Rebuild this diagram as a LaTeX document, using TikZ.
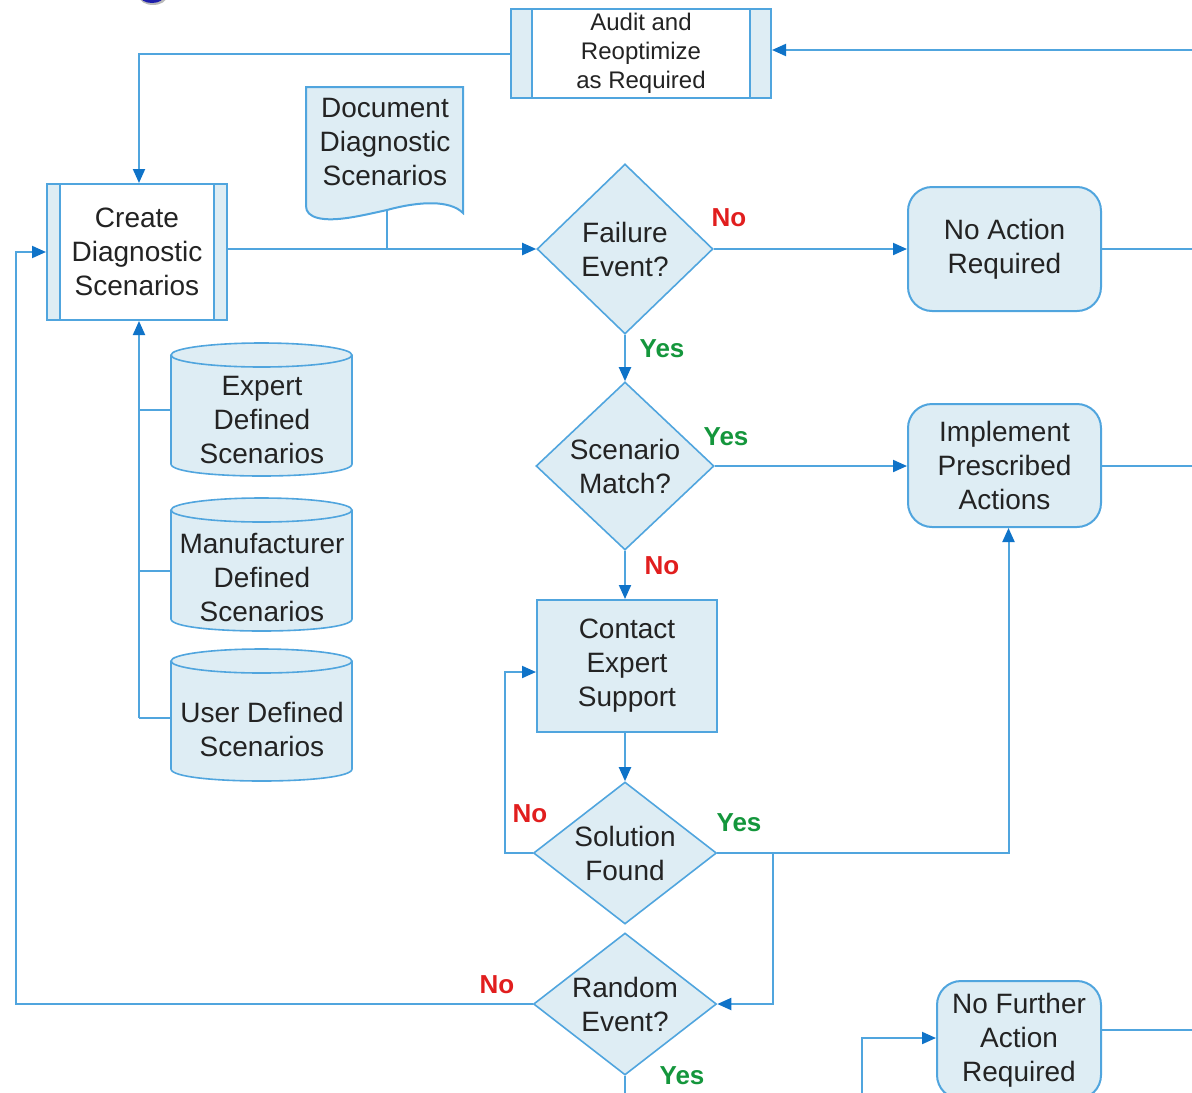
\documentclass[tikz,border=0pt]{standalone}
\usepackage{fontspec}
\setmainfont{Liberation Sans}
\usetikzlibrary{arrows.meta,shapes.geometric}

\definecolor{boxfill}{RGB}{222,237,244}
\definecolor{edge}{RGB}{80,165,222}
\definecolor{tipblue}{RGB}{15,115,200}
\definecolor{ink}{RGB}{35,35,35}
\definecolor{nored}{RGB}{225,30,30}
\definecolor{yesgreen}{RGB}{20,150,60}
\definecolor{logoblue}{RGB}{30,30,170}

\tikzset{
  base/.style={font=\fontsize{14}{17}\selectfont, text=ink, align=center, inner sep=0pt},
  subproc/.style={base, rectangle, draw=edge, line width=1pt, fill=boxfill,
    path picture={
      \fill[white] ([xshift=#1]path picture bounding box.north west)
        rectangle ([xshift=-#1]path picture bounding box.south east);
      \draw[edge, line width=1pt]
        ([xshift=#1]path picture bounding box.north west) -- ([xshift=#1]path picture bounding box.south west)
        ([xshift=-#1]path picture bounding box.north east) -- ([xshift=-#1]path picture bounding box.south east);
    }},
  decision/.style={base, diamond, draw=edge, line width=0.8pt, fill=boxfill},
  terminal/.style={base, rectangle, rounded corners=12pt, draw=edge, line width=1pt, fill=boxfill},
  process/.style={base, rectangle, draw=edge, line width=1pt, fill=boxfill},
  flow/.style={draw=edge, line width=1pt},
  arr/.style={flow, -{Triangle[length=7pt,width=6pt,color=tipblue]}},
  nolab/.style={font=\bfseries\fontsize{13}{15}\selectfont, text=nored, inner sep=0pt},
  yeslab/.style={font=\bfseries\fontsize{13}{15}\selectfont, text=yesgreen, inner sep=0pt},
  store/.style={fill=boxfill, draw=edge, line width=0.8pt}
}

% database drum: left x, right x, top rim centre y, bottom rim y
\newcommand\drum[4]{%
  \path[store, draw=none] (#1,#3) -- (#1,#4) .. controls (#1,#4+16) and (#2,#4+16) .. (#2,#4) -- (#2,#3) -- cycle;
  \draw[store] (#1,#3) -- (#1,#4) .. controls (#1,#4+16) and (#2,#4+16) .. (#2,#4) -- (#2,#3);
  \draw[store] ({(#1+#2)/2},#3) ellipse [x radius={(#2-#1)/2}, y radius=12];
}

\begin{document}
\begin{tikzpicture}[x=0.5pt, y=-0.5pt]
\useasboundingbox (0,0) rectangle (1192,1092);
\clip (0,0) rectangle (1192,1092);

% logo fragment at the top edge
\fill[gray!55] (153,-3) ellipse [x radius=13.5, y radius=8];
\fill[logoblue] (152,-4.5) ellipse [x radius=12.5, y radius=7.5];

% sub-processes
\node[subproc=10.5pt, minimum width=130pt, minimum height=44.5pt,
      font=\fontsize{12}{14.5}\selectfont] (audit) at (641,53.5) {Audit and\\Reoptimize\\as Required};
\node[subproc=6.5pt, minimum width=90pt, minimum height=68pt] (create) at (137,252) {Create\\Diagnostic\\Scenarios};

% document
\path[fill=boxfill, draw=edge, line width=1pt] (306,87) -- (463,87) -- (463,213)
  .. controls (450,200) and (420,201) .. (387,210)
  .. controls (360,216) and (335,222) .. (318,218)
  .. controls (310,216) and (306,212) .. (306,206) -- cycle;
\node[base] (doc) at (385,142) {Document\\Diagnostic\\Scenarios};
\coordinate (docfoot) at (387,210);

% scenario stores
\drum{171}{352}{355}{464}
\drum{171}{352}{510}{619}
\drum{171}{352}{661}{769}
\node[base] (expert) at (262,420) {Expert\\Defined\\Scenarios};
\node[base] (maker) at (262,577) {Manufacturer\\Defined\\Scenarios};
\node[base] (userdef) at (262,729) {User Defined\\Scenarios};

% decisions
\node[decision, aspect=1.03, minimum width=88pt, minimum height=85pt] (failure) at (625,249) {Failure\\Event?};
\node[decision, aspect=1.06, minimum width=89pt, minimum height=84pt] (match) at (625,466) {Scenario\\Match?};
\node[decision, aspect=1.29, minimum width=91.5pt, minimum height=71pt] (solved) at (625,853) {Solution\\Found};
\node[decision, aspect=1.29, minimum width=91.5pt, minimum height=71pt] (random) at (625,1004) {Random\\Event?};

% actions
\node[terminal, minimum width=96.5pt, minimum height=62pt] (noaction) at (1004.5,249) {No Action\\Required};
\node[terminal, minimum width=96.5pt, minimum height=61.5pt] (implement) at (1004.5,465.5) {Implement\\Prescribed\\Actions};
\node[terminal, minimum width=82pt, minimum height=59pt] (nofurther) at (1019,1040) {No Further\\Action\\Required};
\node[process, minimum width=90pt, minimum height=66pt] (contact) at (627,666) {Contact\\Expert\\Support};

% scenario feeds into Create
\coordinate (trunk) at (139,718);
\coordinate (tapE) at (171,410);
\coordinate (tapM) at (171,571);
\coordinate (tapU) at (171,718);
\draw[arr] (trunk) -- (trunk |- create.south);
\draw[flow] (trunk |- tapE) -- (tapE);
\draw[flow] (trunk |- tapM) -- (tapM);
\draw[flow] (trunk) -- (tapU);

% audit loop
\coordinate (auditin) at (1200,50);
\draw[arr] (auditin) -- (auditin -| audit.east);
\draw[arr] (audit.west) -| ([xshift=1pt]create.north);

% main flow
\draw[arr] (create.east |- failure.west) -- (failure.west);
\draw[flow] (docfoot) -- (docfoot |- failure.west);
\draw[arr] (failure.east) -- (noaction.west);
\draw[flow] (noaction.east) -- ++(100,0);
\draw[arr] (failure.south) -- (match.north);
\draw[arr] (match.east) -- (match.east -| implement.west);
\draw[flow] (implement.east) -- ++(100,0);
\draw[arr] (match.south) -- (match.south |- contact.north);
\draw[arr] (contact.south -| solved.north) -- (solved.north);
\draw[arr] (solved.west) -- ++(-28,0) |- ([yshift=-3pt]contact.west);
\draw[arr] (solved.east) -| ([xshift=2pt]implement.south);
\coordinate (branch) at (773,853);
\draw[arr] (branch) |- (random.east);
\coordinate (leftrail) at (16,1004);
\draw[arr] (random.west) -- (leftrail) |- (create.west);
\draw[flow] (random.south) -- ++(0,40);
\coordinate (upfeed) at (862,1100);
\draw[arr] (upfeed) |- ([yshift=1pt]nofurther.west);
\draw[flow] ([yshift=5pt]nofurther.east) -- ++(100,0);

% branch labels
\node[nolab] (l1) at (729,218) {No};
\node[yeslab] (l2) at (662,349) {Yes};
\node[yeslab] (l3) at (726,437) {Yes};
\node[nolab] (l4) at (662,566) {No};
\node[nolab] (l5) at (530,814) {No};
\node[yeslab] (l6) at (739,823) {Yes};
\node[nolab] (l7) at (497,985) {No};
\node[yeslab] (l8) at (682,1076) {Yes};
\end{tikzpicture}
\end{document}
